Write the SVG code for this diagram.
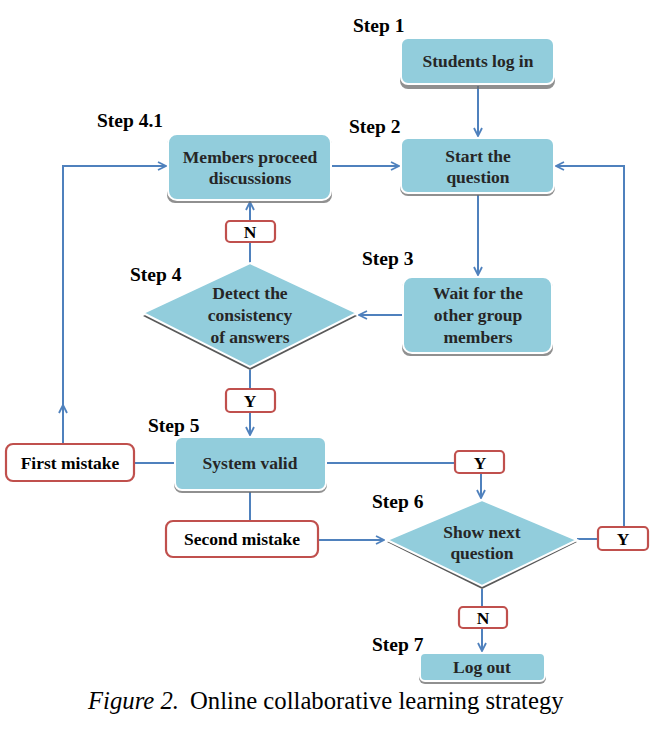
<svg xmlns="http://www.w3.org/2000/svg" width="670" height="746" viewBox="0 0 670 746">
<style>
.bg{fill:#ffffff}
.box{fill:#92CDDC;stroke:#ffffff;stroke-width:2}
.shadow{fill:#6b6b6b;opacity:0.75}
.lbl{fill:#ffffff;stroke:#C0504D;stroke-width:2.2}
.t{font-family:"Liberation Serif","Times New Roman",serif;font-weight:bold;font-size:17.5px;fill:#262626;text-anchor:middle}
.step{font-family:"Liberation Serif","Times New Roman",serif;font-weight:bold;font-size:19.5px;fill:#000000}
.cap{font-family:"Liberation Serif","Times New Roman",serif;font-size:24.7px;fill:#000000}
.c{fill:none;stroke:#4F81BD;stroke-width:2}
</style>
<defs>
<marker id="arr" viewBox="0 0 10 10" refX="9" refY="5" markerWidth="10" markerHeight="10" markerUnits="userSpaceOnUse" orient="auto">
<path d="M1,1 L9,5 L1,9" fill="none" stroke="#4F81BD" stroke-width="1.8"/>
</marker>
</defs>
<rect class="bg" x="0" y="0" width="670" height="746"/>

<g id="connectors">
<path class="c" d="M478,86 L478,136" marker-end="url(#arr)"/>
<path class="c" d="M331,166 L399,166" marker-end="url(#arr)"/>
<path class="c" d="M478,195 L478,275" marker-end="url(#arr)"/>
<path class="c" d="M403,315 L359,315" marker-end="url(#arr)"/>
<path class="c" d="M250,263 L250,242"/>
<path class="c" d="M250,221 L250,202" marker-end="url(#arr)"/>
<path class="c" d="M250,370 L250,389"/>
<path class="c" d="M250,412 L250,435" marker-end="url(#arr)"/>
<path class="c" d="M175,463 L134,463"/>
<path class="c" d="M63,444 L63,166 L166,166" marker-end="url(#arr)"/>
<path class="c" d="M63,444 L63,405" marker-end="url(#arr)"/>
<path class="c" d="M250,492 L250,521"/>
<path class="c" d="M318,540 L384,540" marker-end="url(#arr)"/>
<path class="c" d="M326,463 L455,463"/>
<path class="c" d="M481,473 L481,498" marker-end="url(#arr)"/>
<path class="c" d="M577,539 L598,539"/>
<path class="c" d="M624,527 L624,166 L556,166" marker-end="url(#arr)"/>
<path class="c" d="M482,589 L482,607"/>
<path class="c" d="M482,628 L482,651" marker-end="url(#arr)"/>
</g>

<g id="step1">
<text class="step" x="353" y="32">Step 1</text>
<rect class="shadow" x="400" y="41" width="155" height="48" rx="8"/>
<rect class="box" x="401" y="38" width="153" height="46" rx="7"/>
<text class="t" x="478" y="67">Students log in</text>
</g>

<g id="step2">
<text class="step" x="349" y="133">Step 2</text>
<rect class="shadow" x="400" y="141" width="155" height="55" rx="8"/>
<rect class="box" x="401" y="138" width="153" height="55" rx="7"/>
<text class="t" x="478" y="162">Start the</text>
<text class="t" x="478" y="183">question</text>
</g>

<g id="step41">
<text class="step" x="97" y="127">Step 4.1</text>
<rect class="shadow" x="167" y="137" width="165" height="66" rx="8"/>
<rect class="box" x="168" y="134" width="163" height="66" rx="9"/>
<text class="t" x="250" y="163">Members proceed</text>
<text class="t" x="250" y="184">discussions</text>
</g>

<g id="step3">
<text class="step" x="362" y="265">Step 3</text>
<rect class="shadow" x="402" y="280" width="151" height="76" rx="8"/>
<rect class="box" x="403" y="277" width="149" height="76" rx="9"/>
<text class="t" x="478" y="299">Wait for the</text>
<text class="t" x="478" y="321">other group</text>
<text class="t" x="478" y="343">members</text>
</g>

<g id="step4">
<text class="step" x="130" y="281">Step 4</text>
<polygon points="250,265 357,316 250,370 143,316" fill="#595959"/>
<polygon class="box" points="250,263 357,313 250,367 143,313"/>
<text class="t" x="250" y="299">Detect the</text>
<text class="t" x="250" y="321">consistency</text>
<text class="t" x="250" y="343">of answers</text>
</g>

<g id="labelN1">
<rect class="lbl" x="226" y="221" width="49" height="21" rx="4"/>
<text class="t" x="250" y="238" style="fill:#000">N</text>
</g>

<g id="labelY1">
<rect class="lbl" x="226" y="389" width="49" height="23" rx="4"/>
<text class="t" x="250" y="407" style="fill:#000">Y</text>
</g>

<g id="step5">
<text class="step" x="148" y="432">Step 5</text>
<rect class="shadow" x="174" y="440" width="153" height="53" rx="8"/>
<rect class="box" x="175" y="437" width="151" height="53" rx="7"/>
<text class="t" x="250" y="469">System valid</text>
</g>

<g id="firstMistake">
<rect class="lbl" x="6" y="444" width="128" height="37" rx="7"/>
<text class="t" x="70" y="469" style="fill:#000">First mistake</text>
</g>

<g id="secondMistake">
<rect class="lbl" x="166" y="521" width="152" height="36" rx="7"/>
<text class="t" x="242" y="545" style="fill:#000">Second mistake</text>
</g>

<g id="labelY2">
<rect class="lbl" x="455" y="451" width="49" height="22" rx="4"/>
<text class="t" x="480" y="469" style="fill:#000">Y</text>
</g>

<g id="step6">
<text class="step" x="372" y="508">Step 6</text>
<polygon points="482,502 577,542 482,589 387,542" fill="#595959"/>
<polygon class="box" points="482,500 577,540 482,586 387,540"/>
<text class="t" x="482" y="538">Show next</text>
<text class="t" x="482" y="559">question</text>
</g>

<g id="labelY3">
<rect class="lbl" x="598" y="527" width="50" height="23" rx="4"/>
<text class="t" x="623" y="545" style="fill:#000">Y</text>
</g>

<g id="labelN2">
<rect class="lbl" x="459" y="607" width="48" height="21" rx="4"/>
<text class="t" x="483" y="624" style="fill:#000">N</text>
</g>

<g id="step7">
<text class="step" x="372" y="651">Step 7</text>
<rect class="shadow" x="419" y="656" width="127" height="28" rx="6"/>
<rect class="box" x="420" y="653" width="125" height="28" rx="5"/>
<text class="t" x="482" y="673">Log out</text>
</g>

<g id="caption">
<text class="cap" x="88" y="709" font-style="italic">Figure 2.</text>
<text class="cap" x="190" y="709">Online collaborative learning strategy</text>
</g>
</svg>
